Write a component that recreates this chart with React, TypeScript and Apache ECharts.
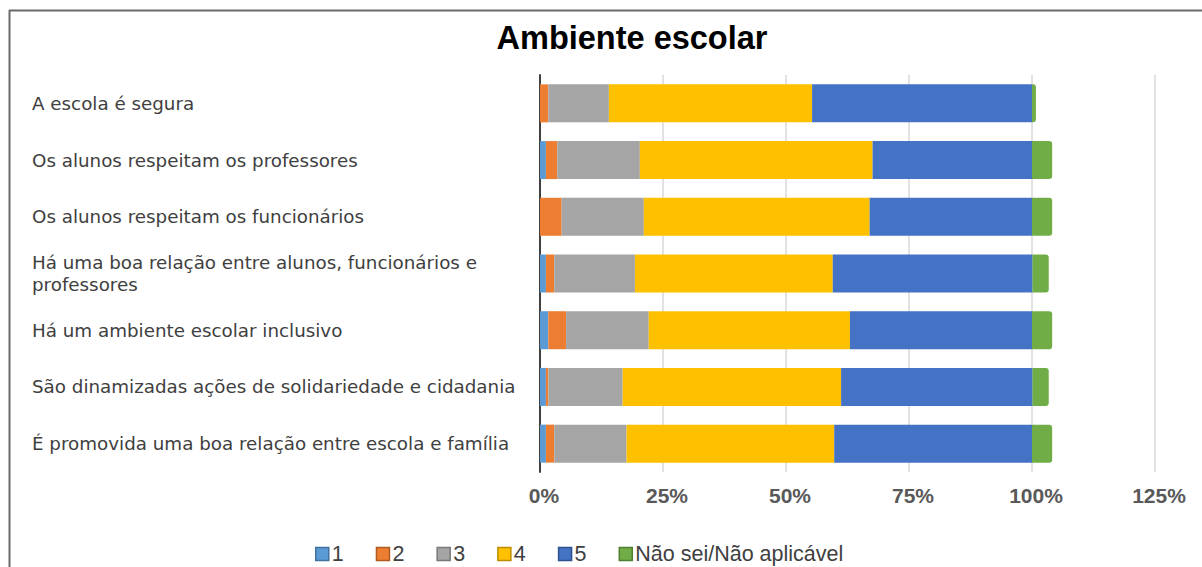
import React, { useEffect, useRef } from "react";
import * as echarts from "echarts";

const categories = [
  "A escola é segura",
  "Os alunos respeitam os professores",
  "Os alunos respeitam os funcionários",
  "Há uma boa relação entre alunos, funcionários e\nprofessores",
  "Há um ambiente escolar inclusivo",
  "São dinamizadas ações de solidariedade e cidadania",
  "É promovida uma boa relação entre escola e família",
];

const seriesNames = ["1", "2", "3", "4", "5", "Não sei/Não aplicável"];
const seriesColors = ["#5b9bd5", "#ed7d31", "#a5a5a5", "#ffc000", "#4472c4", "#70ad47"];
const legendBorders = ["#41719c", "#ae5a21", "#787878", "#bc8c00", "#2f528f", "#507e32"];

const v1 = [0, 1.2, 0, 1.2, 1.7, 1.2, 1.2];
const v2 = [1.7, 2.3, 4.4, 1.7, 3.6, 0.5, 1.7];
const v3 = [12.3, 16.8, 16.7, 16.4, 16.8, 15.1, 14.7];
const v4 = [41.3, 47.3, 45.9, 40.2, 40.9, 44.4, 42.2];
const v5 = [44.7, 32.4, 33.0, 40.6, 37.0, 38.9, 40.2];
const vNS = [0.8, 4.1, 4.1, 3.3, 4.1, 3.3, 4.1];

const allValues = [v1, v2, v3, v4, v5, vNS];
const xTicks = [0, 25, 50, 75, 100, 125];

export default function App() {
  const ref = useRef<HTMLDivElement>(null);
  useEffect(() => {
    if (!ref.current) return;
    const chart = echarts.init(ref.current, undefined, { renderer: "svg" });
    chart.setOption({
      animation: false,
      backgroundColor: "#ffffff",
      title: {
        text: "Ambiente escolar",
        left: 627,
        top: 16,
        textAlign: "center",
        textStyle: {
          fontFamily: "Liberation Sans, Arial, sans-serif",
          fontWeight: "bold",
          fontSize: 32.5,
          color: "#000000",
        },
      },
      graphic: [
        {
          type: "line",
          shape: { x1: 9, y1: 10.5, x2: 1202, y2: 10.5 },
          style: { stroke: "#6b6b6b", lineWidth: 2 },
          silent: true,
        },
        {
          type: "line",
          shape: { x1: 9.5, y1: 10, x2: 9.5, y2: 567 },
          style: { stroke: "#6b6b6b", lineWidth: 2 },
          silent: true,
        },
      ],
      legend: {
        left: 310,
        top: 538,
        itemWidth: 13,
        itemHeight: 13,
        itemGap: 32,
        icon: "rect",
        textStyle: {
          fontFamily: "Liberation Sans, Arial, sans-serif",
          fontSize: 21.5,
          color: "#404040",
          padding: [0, 0, 0, -2],
        },
        data: seriesNames.map((n, i) => ({
          name: n,
          itemStyle: { borderColor: legendBorders[i], borderWidth: 1.5 },
        })),
      },
      grid: { left: 540, right: 47, top: 75, bottom: 95, containLabel: false },
      xAxis: {
        type: "value",
        min: xTicks[0],
        max: xTicks[xTicks.length - 1],
        interval: 25,
        axisLine: { show: false },
        axisTick: { show: false },
        splitLine: { show: true, lineStyle: { color: "#d9d9d9", width: 1.5 } },
        axisLabel: {
          formatter: "{value}%",
          margin: 13,
          fontFamily: "Liberation Sans, Arial, sans-serif",
          fontWeight: "bold",
          fontSize: 21,
          color: "#595959",
          padding: [0, 0, 0, 8],
        },
      },
      yAxis: {
        type: "category",
        inverse: true,
        data: categories,
        axisLine: { show: true, lineStyle: { color: "#404040", width: 2 } },
        axisTick: { show: false },
        axisLabel: {
          align: "left",
          margin: 508,
          fontFamily: "DejaVu Sans, Verdana, sans-serif",
          fontSize: 18.3,
          lineHeight: 22,
          color: "#404040",
        },
      },
      series: seriesNames.map((name, i) => ({
        name,
        type: "bar",
        stack: "total",
        barWidth: 38,
        data: allValues[i],
        itemStyle: {
          color: seriesColors[i],
          borderRadius: i === seriesNames.length - 1 ? [0, 3, 3, 0] : 0,
        },
      })),
    });
    return () => chart.dispose();
  }, []);
  return (
    <div
      ref={ref}
      style={{ position: "fixed", left: 0, top: 0, width: 1202, height: 567 }}
    />
  );
}
